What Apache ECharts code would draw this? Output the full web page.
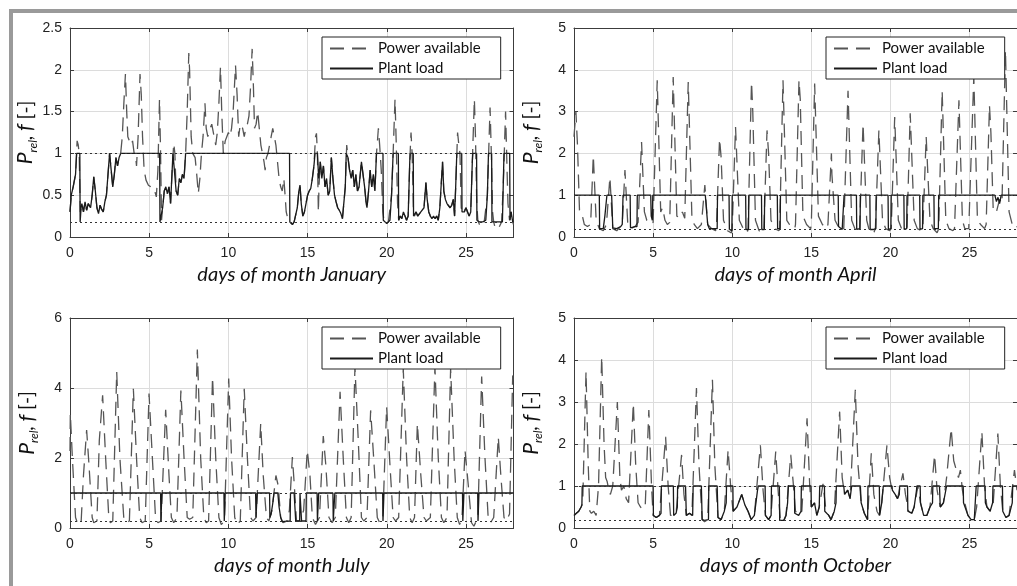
<!DOCTYPE html>
<html>
<head>
<meta charset="utf-8">
<script src="https://cdn.jsdelivr.net/npm/echarts@6/dist/echarts.min.js"></script>
<style>
html, body { margin: 0; padding: 0; background: #fff; }
#main { width: 1017px; height: 586px; }
</style>
</head>
<body>
<div id="main"></div>
<script type="text/javascript">
// panels: month name, y range and step
var months = ['January', 'April', 'July', 'October'];
var yMax = [2.5, 5, 6, 5];
var yStep = [0.5, 1, 2, 1];
var dayMax = 28;
var dayStep = 5;
// load limits (dotted lines)
var maxLoad = 1;
var minLoad = 0.18;

// [day, value]
var janPower = [[0,0.3],[0.08,0.5],[0.2,0.6],[0.35,0.75],[0.45,1.15],[0.52,1.1],[0.58,1.0],[0.65,0.3],[0.75,0.4],[0.85,0.3],[0.95,0.42],[1.05,0.32],[1.15,0.4],[1.3,0.35],[1.4,0.5],[1.5,0.72],[1.6,0.55],[1.7,0.35],[1.8,0.28],[1.9,0.38],[2.0,0.33],[2.1,0.3],[2.2,0.42],[2.3,0.5],[2.4,0.75],[2.5,1.0],[2.6,0.8],[2.7,0.6],[2.8,0.75],[2.9,0.95],[3.0,0.85],[3.1,0.95],[3.2,1.0],[3.3,1.2],[3.4,1.6],[3.5,1.95],[3.58,1.5],[3.65,1.2],[3.75,1.22],[3.85,1.1],[3.95,1.15],[4.05,1.0],[4.15,0.95],[4.2,0.85],[4.3,1.2],[4.42,1.95],[4.5,1.7],[4.58,1.2],[4.68,0.8],[4.8,0.68],[4.95,0.62],[5.1,0.6],[5.2,0.55],[5.35,0.55],[5.45,0.48],[5.55,0.8],[5.65,1.65],[5.72,1.0],[5.78,0.2],[5.85,0.35],[5.95,0.55],[6.05,0.6],[6.15,0.52],[6.25,0.6],[6.35,0.4],[6.45,0.8],[6.55,1.12],[6.62,1.0],[6.7,0.55],[6.8,0.5],[6.9,0.7],[7.0,0.65],[7.1,0.75],[7.2,0.7],[7.3,1.0],[7.4,1.5],[7.5,2.2],[7.55,2.0],[7.65,1.2],[7.75,1.0],[7.9,0.95],[8.0,0.75],[8.1,0.52],[8.2,0.7],[8.3,1.0],[8.4,1.2],[8.52,1.6],[8.6,1.3],[8.7,1.2],[8.85,1.3],[8.95,1.35],[9.1,1.2],[9.2,1.1],[9.3,1.25],[9.4,1.6],[9.5,2.03],[9.58,1.5],[9.68,1.0],[9.8,1.15],[9.9,1.2],[10.0,1.25],[10.1,1.2],[10.2,1.3],[10.3,1.5],[10.45,2.05],[10.55,1.7],[10.65,1.2],[10.75,1.35],[10.9,1.3],[11.0,1.2],[11.1,1.3],[11.2,1.35],[11.3,1.45],[11.4,1.8],[11.5,2.25],[11.58,1.8],[11.65,1.3],[11.75,1.35],[11.85,1.5],[11.95,1.3],[12.05,1.1],[12.15,1.0],[12.25,0.9],[12.32,0.8],[12.4,0.95],[12.5,1.0],[12.6,1.1],[12.7,1.2],[12.8,1.3],[12.9,1.2],[13.0,1.1],[13.1,0.9],[13.2,0.7],[13.3,0.6],[13.4,0.55],[13.5,0.7],[13.58,0.5],[13.65,0.3],[13.75,0.22],[13.85,0.18],[13.95,0.16],[14.05,0.15],[14.15,0.18],[14.25,0.2],[14.35,0.35],[14.45,0.55],[14.52,0.62],[14.6,0.4],[14.7,0.25],[14.8,0.3],[14.9,0.4],[15.0,0.5],[15.1,0.55],[15.2,0.58],[15.3,0.7],[15.4,0.85],[15.5,1.2],[15.56,1.24],[15.62,1.0],[15.68,0.3],[15.72,0.6],[15.8,0.9],[15.9,0.7],[16.0,0.85],[16.1,0.6],[16.2,0.7],[16.3,0.5],[16.4,0.55],[16.5,0.95],[16.6,0.7],[16.7,0.5],[16.8,0.42],[16.9,0.35],[17.0,0.32],[17.1,0.28],[17.2,0.22],[17.3,0.2],[17.38,0.6],[17.47,1.1],[17.55,0.95],[17.65,0.8],[17.75,0.7],[17.85,0.8],[17.95,0.6],[18.05,0.75],[18.15,0.55],[18.25,0.6],[18.4,0.9],[18.5,0.75],[18.6,0.6],[18.7,0.4],[18.75,0.35],[18.85,0.55],[18.95,0.8],[19.05,0.6],[19.15,0.75],[19.25,0.55],[19.35,1.0],[19.47,1.3],[19.55,1.1],[19.65,0.8],[19.75,0.3],[19.82,0.2],[19.9,0.16],[20.0,0.15],[20.1,0.18],[20.2,0.2],[20.3,0.5],[20.4,1.0],[20.52,1.65],[20.6,1.1],[20.68,0.4],[20.75,0.2],[20.85,0.25],[20.95,0.22],[21.05,0.3],[21.15,0.25],[21.25,0.2],[21.35,0.25],[21.45,0.9],[21.53,1.25],[21.6,1.0],[21.68,0.35],[21.75,0.25],[21.85,0.3],[21.95,0.25],[22.05,0.25],[22.15,0.3],[22.25,0.28],[22.35,0.35],[22.47,0.65],[22.55,0.45],[22.65,0.3],[22.75,0.25],[22.85,0.22],[22.95,0.25],[23.05,0.22],[23.15,0.25],[23.25,0.2],[23.35,0.35],[23.52,0.9],[23.6,0.55],[23.7,0.45],[23.8,0.4],[23.9,0.42],[24.0,0.35],[24.1,0.38],[24.2,0.45],[24.28,0.25],[24.35,0.6],[24.47,1.25],[24.55,1.1],[24.62,1.0],[24.7,0.35],[24.8,0.28],[24.9,0.3],[25.0,0.35],[25.1,0.3],[25.2,0.25],[25.3,0.3],[25.4,0.9],[25.53,1.65],[25.6,1.2],[25.68,0.4],[25.75,0.2],[25.85,0.15],[25.95,0.18],[26.05,0.15],[26.15,0.18],[26.25,0.2],[26.35,0.5],[26.52,1.55],[26.6,1.0],[26.68,0.3],[26.75,0.18],[26.85,0.1],[26.95,0.08],[27.05,0.1],[27.15,0.14],[27.25,0.18],[27.35,0.6],[27.5,1.5],[27.58,0.9],[27.65,0.4],[27.75,0.2],[27.85,0.3],[27.95,0.18],[28,0.15]];
var janLoad = [[0,0.3],[0.08,0.5],[0.2,0.6],[0.35,0.75],[0.42,1.0],[0.62,1.0],[0.64,0.18],[0.7,0.35],[0.75,0.4],[0.85,0.3],[0.95,0.42],[1.05,0.32],[1.15,0.4],[1.3,0.35],[1.4,0.5],[1.5,0.72],[1.6,0.55],[1.7,0.35],[1.8,0.28],[1.9,0.38],[2.0,0.33],[2.1,0.3],[2.2,0.42],[2.3,0.5],[2.4,0.75],[2.5,1.0],[2.6,0.8],[2.7,0.6],[2.8,0.75],[2.9,0.95],[3.0,0.85],[3.1,0.95],[3.2,1.0],[5.66,1.0],[5.68,0.18],[5.78,0.2],[5.85,0.35],[5.95,0.55],[6.05,0.6],[6.15,0.52],[6.25,0.6],[6.35,0.4],[6.45,0.8],[6.5,1.0],[6.62,1.0],[6.7,0.55],[6.8,0.5],[6.9,0.7],[7.0,0.65],[7.1,0.75],[7.2,0.7],[7.3,1.0],[13.86,1.0],[13.88,0.18],[13.95,0.16],[14.05,0.15],[14.15,0.18],[14.25,0.2],[14.35,0.35],[14.45,0.55],[14.52,0.62],[14.6,0.4],[14.7,0.25],[14.8,0.3],[14.9,0.4],[15.0,0.5],[15.1,0.55],[15.2,0.58],[15.3,0.7],[15.4,0.85],[15.47,1.0],[15.62,1.0],[15.7,0.7],[15.8,0.9],[15.9,0.7],[16.0,0.85],[16.1,0.6],[16.2,0.7],[16.3,0.5],[16.4,0.55],[16.5,0.95],[16.6,0.7],[16.7,0.5],[16.8,0.42],[16.9,0.35],[17.0,0.32],[17.1,0.28],[17.2,0.22],[17.3,0.2],[17.38,0.6],[17.44,1.0],[17.52,1.0],[17.55,0.95],[17.65,0.8],[17.75,0.7],[17.85,0.8],[17.95,0.6],[18.05,0.75],[18.15,0.55],[18.25,0.6],[18.4,0.9],[18.5,0.75],[18.6,0.6],[18.7,0.4],[18.75,0.35],[18.85,0.55],[18.95,0.8],[19.05,0.6],[19.15,0.75],[19.25,0.55],[19.35,1.0],[19.76,1.0],[19.78,0.2],[19.9,0.18],[20.0,0.16],[20.1,0.18],[20.2,0.2],[20.3,0.5],[20.4,1.0],[20.73,1.0],[20.75,0.2],[20.85,0.25],[20.95,0.22],[21.05,0.3],[21.15,0.25],[21.25,0.2],[21.35,0.25],[21.45,0.9],[21.48,1.0],[21.67,1.0],[21.69,0.25],[21.75,0.25],[21.85,0.3],[21.95,0.25],[22.05,0.25],[22.15,0.3],[22.25,0.28],[22.35,0.35],[22.47,0.65],[22.55,0.45],[22.65,0.3],[22.75,0.25],[22.85,0.22],[22.95,0.25],[23.05,0.22],[23.15,0.25],[23.25,0.2],[23.35,0.35],[23.52,0.9],[23.6,0.55],[23.7,0.45],[23.8,0.4],[23.9,0.42],[24.0,0.35],[24.1,0.38],[24.2,0.45],[24.28,0.25],[24.35,0.6],[24.42,1.0],[24.73,1.0],[24.75,0.3],[24.8,0.28],[24.9,0.3],[25.0,0.35],[25.1,0.3],[25.2,0.25],[25.3,0.3],[25.4,0.9],[25.43,1.0],[25.67,1.0],[25.69,0.2],[25.75,0.2],[25.85,0.18],[26.05,0.18],[26.25,0.2],[26.35,0.5],[26.42,1.0],[26.62,1.0],[26.64,0.18],[27.3,0.18],[27.35,0.6],[27.4,1.0],[27.76,1.0],[27.78,0.2],[27.85,0.3],[27.95,0.18],[28,0.18]];

var aprPower = [[0,2.4],[0.12,3.0],[0.22,2.2],[0.35,0.6],[0.5,0.55],[0.65,0.3],[0.85,0.25],[1.05,0.3],[1.22,1.95],[1.4,0.4],[1.6,0.2],[1.85,0.15],[2.05,0.3],[2.27,1.43],[2.45,0.2],[2.7,0.15],[2.95,0.25],[3.05,0.3],[3.22,1.6],[3.4,0.3],[3.6,0.2],[3.85,0.25],[4.05,0.35],[4.27,2.27],[4.45,0.6],[4.6,0.4],[4.8,0.3],[5.0,0.35],[5.26,3.75],[5.48,0.6],[5.6,0.7],[5.75,0.4],[5.9,0.3],[6.05,0.35],[6.27,3.83],[6.5,0.5],[6.7,0.45],[6.85,0.6],[7.0,0.45],[7.22,3.71],[7.45,0.5],[7.6,0.3],[7.8,0.2],[8.05,0.3],[8.27,1.24],[8.45,0.3],[8.7,0.2],[8.95,0.15],[9.0,0.2],[9.2,2.35],[9.3,1.9],[9.45,0.4],[9.7,0.15],[9.95,0.1],[10.0,0.2],[10.21,2.63],[10.45,0.4],[10.7,0.2],[10.95,0.1],[11.0,0.2],[11.22,3.71],[11.3,3.0],[11.47,0.4],[11.7,0.15],[11.95,0.1],[12.0,0.2],[12.2,2.55],[12.3,2.0],[12.45,0.4],[12.7,0.2],[12.95,0.15],[13.0,0.2],[13.21,3.75],[13.45,0.4],[13.7,0.25],[13.95,0.2],[14.0,0.3],[14.22,3.75],[14.3,3.3],[14.47,0.5],[14.7,0.3],[14.95,0.2],[15.0,0.3],[15.21,3.67],[15.45,0.5],[15.7,0.3],[15.95,0.2],[16.05,0.3],[16.27,2.0],[16.3,1.5],[16.5,0.4],[16.7,0.25],[16.95,0.15],[17.05,0.2],[17.32,3.5],[17.55,0.4],[17.75,0.2],[17.95,0.1],[18.05,0.2],[18.27,2.71],[18.5,0.4],[18.7,0.1],[18.95,0.1],[19.05,0.2],[19.27,2.55],[19.5,0.4],[19.7,0.2],[19.95,0.15],[20.05,0.2],[20.27,2.87],[20.5,0.4],[20.7,0.2],[20.95,0.15],[21.05,0.2],[21.25,2.96],[21.5,0.4],[21.7,0.2],[21.95,0.15],[22.05,0.2],[22.26,2.4],[22.5,0.4],[22.7,0.2],[22.95,0.1],[23.05,0.2],[23.27,3.5],[23.5,0.4],[23.7,0.2],[23.95,0.15],[24.05,0.2],[24.33,3.27],[24.55,0.4],[24.7,0.2],[24.95,0.2],[25.05,0.2],[25.27,3.83],[25.5,0.4],[25.7,0.3],[25.95,0.2],[26.05,0.3],[26.26,3.15],[26.35,2.5],[26.5,0.6],[26.7,0.6],[26.9,0.9],[27.05,0.8],[27.27,4.47],[27.5,0.6],[27.7,0.3],[27.9,0.2],[28,0.25]];
var aprLoad = [[0,1],[1.6,1],[1.62,0.2],[1.85,0.2],[1.95,0.5],[2.08,1],[2.38,1],[2.45,0.22],[2.7,0.2],[2.95,0.25],[3.05,0.3],[3.1,1],[3.55,1],[3.57,0.22],[3.85,0.25],[3.98,0.25],[4.0,1],[4.85,1],[4.88,0.5],[4.95,0.4],[4.98,1],[8.3,1],[8.45,0.3],[8.55,0.2],[8.8,0.2],[9.05,0.2],[9.07,1],[9.8,1],[9.82,0.18],[9.98,0.15],[10.0,1],[10.85,1],[10.87,0.18],[11.03,0.18],[11.05,1],[11.85,1],[11.87,0.18],[12.03,0.18],[12.05,1],[12.85,1],[12.87,0.2],[13.03,0.2],[13.05,1],[16.7,1],[16.72,0.25],[16.95,0.18],[17.05,0.2],[17.07,1],[17.85,1],[17.87,0.18],[18.08,0.2],[18.1,1],[18.7,1],[18.72,0.18],[18.95,0.18],[19.08,0.2],[19.1,1],[19.85,1],[19.87,0.18],[20.03,0.2],[20.05,1],[20.85,1],[20.87,0.18],[21.03,0.2],[21.05,1],[21.85,1],[21.87,0.18],[22.03,0.2],[22.05,1],[22.75,1],[22.77,0.2],[23.03,0.2],[23.05,1],[26.6,1],[26.7,0.85],[26.8,0.95],[26.9,0.8],[27.0,1],[28,1]];

var julPower = [[0,2.2],[0.02,3.27],[0.15,2.0],[0.35,0.3],[0.5,0.1],[0.7,0.15],[0.85,1.5],[1.05,2.8],[1.2,1.8],[1.4,0.3],[1.5,0.15],[1.7,0.2],[1.85,2.5],[2.06,3.79],[2.25,2.0],[2.45,0.3],[2.55,0.15],[2.7,0.2],[2.95,4.46],[3.15,2.0],[3.4,0.25],[3.55,0.15],[3.75,0.2],[4.0,3.98],[4.2,2.0],[4.4,0.3],[4.55,0.15],[4.75,0.2],[4.99,3.84],[5.2,2.0],[5.4,0.3],[5.55,0.15],[5.75,0.2],[6.04,3.38],[6.25,1.5],[6.4,0.3],[6.55,0.15],[6.75,0.3],[7.0,3.93],[7.2,2.0],[7.4,0.3],[7.55,0.25],[7.75,0.3],[8.04,5.1],[8.25,2.0],[8.45,0.3],[8.6,0.15],[8.75,0.2],[9.0,4.31],[9.2,2.0],[9.4,0.3],[9.55,0.1],[9.75,0.2],[10.02,4.27],[10.2,2.0],[10.4,0.3],[10.55,0.1],[10.75,0.2],[11.0,3.98],[11.2,2.0],[11.4,0.3],[11.55,0.2],[11.75,0.3],[12.04,2.98],[12.2,1.5],[12.4,0.3],[12.55,0.2],[12.75,0.5],[13.0,1.5],[13.15,1.2],[13.3,0.3],[13.45,0.15],[13.7,0.2],[13.85,0.5],[14.04,2.03],[14.15,1.3],[14.3,0.2],[14.5,0.2],[14.75,0.5],[14.98,2.22],[15.15,1.5],[15.3,0.3],[15.5,0.1],[15.75,0.3],[15.99,2.63],[16.15,1.8],[16.35,0.3],[16.55,0.15],[16.75,0.3],[17.05,3.89],[17.25,2.0],[17.45,0.3],[17.6,0.15],[17.75,0.3],[17.99,4.6],[18.2,2.5],[18.4,0.3],[18.55,0.2],[18.75,0.3],[18.98,3.36],[19.2,1.8],[19.4,0.3],[19.55,0.15],[19.75,0.3],[19.99,3.46],[20.2,1.8],[20.4,0.3],[20.55,0.2],[20.75,0.3],[21.04,4.55],[21.25,2.0],[21.45,0.3],[21.6,0.15],[21.75,0.3],[21.93,2.98],[22.15,1.5],[22.35,0.3],[22.5,0.2],[22.75,0.3],[23.04,4.6],[23.25,2.0],[23.45,0.3],[23.6,0.15],[23.8,0.3],[24.03,4.55],[24.25,2.0],[24.45,0.3],[24.6,0.1],[24.75,0.3],[24.94,2.22],[25.15,1.2],[25.35,0.15],[25.5,0.05],[25.75,0.3],[25.99,4.33],[26.2,2.0],[26.4,0.3],[26.55,0.15],[26.75,0.3],[27.04,2.6],[27.2,1.5],[27.4,0.3],[27.55,0.2],[27.75,0.4],[27.95,4.36],[28,4.0]];
var julLoad = [[0,1],[5.72,1],[5.74,0.2],[5.78,0.2],[5.8,1],[9.72,1],[9.74,0.2],[9.78,0.2],[9.8,1],[11.72,1],[11.74,0.3],[11.8,0.3],[11.82,1],[12.6,1],[12.62,0.3],[12.7,0.4],[12.8,0.7],[12.88,1],[13.12,1],[13.2,0.6],[13.3,0.3],[13.4,0.18],[13.9,0.2],[13.92,1],[14.15,1],[14.25,0.2],[14.5,0.2],[14.52,1],[14.6,1],[14.62,0.2],[14.9,0.2],[14.92,1],[15.6,1],[15.62,0.2],[15.68,0.2],[15.7,1],[16.6,1],[16.62,0.2],[16.7,0.2],[16.72,1],[19.74,1],[19.76,0.2],[19.8,0.2],[19.82,1],[24.78,1],[24.8,0.2],[24.85,0.2],[24.87,1],[25.74,1],[25.76,0.2],[25.8,0.2],[25.82,1],[28,1]];

var octPower = [[0,0.3],[0.15,0.35],[0.3,0.4],[0.45,0.5],[0.55,0.6],[0.76,3.73],[0.9,1.5],[1.0,0.4],[1.1,0.35],[1.25,0.4],[1.4,0.3],[1.55,1.0],[1.75,4.08],[1.9,2.0],[2.0,1.2],[2.1,1.1],[2.2,0.9],[2.3,0.8],[2.45,1.0],[2.74,3.0],[2.9,1.2],[3.0,0.9],[3.15,1.0],[3.3,0.7],[3.45,0.6],[3.75,2.97],[3.9,1.5],[4.05,0.6],[4.2,0.5],[4.35,0.45],[4.5,0.5],[4.73,2.81],[4.9,1.0],[5.0,0.3],[5.2,0.25],[5.4,0.3],[5.79,2.17],[5.95,1.0],[6.1,0.3],[6.3,0.3],[6.45,0.35],[6.8,1.74],[6.95,0.8],[7.1,0.3],[7.3,0.35],[7.45,0.3],[7.74,3.33],[7.9,1.5],[8.1,0.2],[8.25,0.15],[8.45,0.2],[8.75,3.53],[8.9,1.5],[9.1,0.25],[9.3,0.2],[9.5,0.4],[9.74,1.86],[9.9,1.0],[10.05,0.4],[10.3,0.5],[10.6,0.8],[10.8,0.55],[11.0,0.4],[11.2,0.2],[11.4,0.3],[11.78,1.97],[11.95,0.9],[12.1,0.3],[12.3,0.2],[12.45,0.3],[12.75,1.82],[12.9,0.9],[13.05,0.15],[13.25,0.15],[13.4,0.3],[13.7,1.74],[13.85,1.1],[14.0,0.4],[14.2,0.3],[14.4,0.4],[14.73,2.61],[14.9,1.0],[15.0,0.5],[15.2,0.6],[15.35,0.3],[15.5,0.5],[15.74,1.05],[15.9,0.5],[16.1,0.3],[16.25,0.2],[16.45,0.4],[16.79,2.77],[16.95,1.2],[17.1,0.8],[17.3,0.9],[17.45,0.7],[17.78,3.29],[17.95,1.5],[18.15,0.6],[18.35,0.35],[18.55,0.2],[18.79,1.78],[18.95,0.8],[19.15,0.4],[19.3,0.3],[19.45,0.6],[19.78,1.97],[19.95,1.2],[20.1,0.9],[20.3,0.8],[20.45,0.7],[20.79,1.3],[20.95,0.8],[21.15,0.4],[21.35,0.35],[21.5,0.5],[21.74,1.0],[21.9,0.6],[22.1,0.3],[22.3,0.3],[22.5,0.5],[22.79,1.74],[22.95,0.9],[23.15,0.5],[23.35,0.6],[23.55,1.2],[23.84,2.37],[24.0,1.6],[24.15,1.4],[24.3,1.2],[24.42,1.38],[24.55,0.9],[24.7,0.6],[24.9,0.3],[25.1,0.2],[25.3,0.2],[25.45,0.5],[25.78,2.29],[25.95,1.0],[26.1,0.5],[26.3,0.4],[26.5,0.6],[26.79,2.25],[26.95,1.0],[27.1,0.4],[27.3,0.25],[27.5,0.3],[27.84,1.38],[28,0.9]];
var octLoad = [[0,0.3],[0.15,0.35],[0.3,0.4],[0.45,0.5],[0.5,0.55],[0.52,1],[5.0,1],[5.02,0.3],[5.2,0.25],[5.4,0.3],[5.5,0.35],[5.52,1],[6.28,1],[6.3,0.3],[6.45,0.35],[6.53,0.5],[6.55,1],[7.05,1],[7.1,0.3],[7.3,0.35],[7.5,0.3],[7.53,1],[8.05,1],[8.1,0.2],[8.25,0.18],[8.5,0.2],[8.52,1],[9.05,1],[9.1,0.25],[9.3,0.2],[9.5,0.4],[9.62,0.6],[9.64,1],[10.04,1],[10.06,0.4],[10.3,0.5],[10.6,0.8],[10.8,0.55],[11.0,0.4],[11.2,0.2],[11.4,0.3],[11.6,0.9],[11.65,1],[12.08,1],[12.1,0.3],[12.3,0.2],[12.46,0.3],[12.48,1],[12.98,1],[13.0,0.18],[13.25,0.18],[13.4,0.3],[13.5,0.6],[13.55,1],[13.93,1],[13.95,0.35],[14.2,0.3],[14.35,0.4],[14.37,1],[14.98,1],[15.0,0.5],[15.2,0.6],[15.35,0.3],[15.5,0.5],[15.53,1],[15.83,1],[15.85,0.4],[16.1,0.3],[16.25,0.2],[16.45,0.4],[16.56,0.6],[16.58,1],[17.05,1],[17.1,0.8],[17.3,0.9],[17.45,0.7],[17.55,1],[18.1,1],[18.15,0.6],[18.35,0.35],[18.56,0.2],[18.58,1],[19.3,1],[19.32,0.3],[19.45,0.6],[19.55,1],[20.1,1],[20.12,0.9],[20.3,0.8],[20.45,0.7],[20.56,0.8],[20.58,1],[21.08,1],[21.1,0.4],[21.35,0.35],[21.5,0.5],[21.65,0.9],[21.67,1],[21.88,1],[21.9,0.6],[22.1,0.3],[22.3,0.3],[22.5,0.5],[22.66,0.6],[22.68,1],[23.1,1],[23.15,0.5],[23.35,0.6],[23.55,1.0],[24.6,1],[24.62,0.6],[24.9,0.3],[25.1,0.2],[25.3,0.2],[25.4,0.2],[25.42,1],[25.98,1],[26.0,0.6],[26.1,0.5],[26.3,0.4],[26.46,0.6],[26.48,1],[27.08,1],[27.1,0.4],[27.3,0.25],[27.5,0.3],[27.7,0.6],[27.73,1],[28,1]];

var powerData = [janPower, aprPower, julPower, octPower];
var loadData = [janLoad, aprLoad, julLoad, octLoad];

// plot boxes (px)
var boxes = [
    {left: 70, top: 28, width: 443.5, height: 209},
    {left: 574, top: 28, width: 443.5, height: 209},
    {left: 70, top: 318, width: 443.5, height: 210},
    {left: 574, top: 318, width: 443.5, height: 210}
];
var tickFont = 'Liberation Sans, Arial, sans-serif';
var textFont = 'Lato, Open Sans, sans-serif';
var frameColor = '#3c3c3c';

var grids = [], xAxes = [], yAxes = [], series = [], legends = [];
for (var i = 0; i < 4; i++) {
    var b = boxes[i];
    grids.push({left: b.left, top: b.top, width: b.width, height: b.height, containLabel: false});

    xAxes.push({
        type: 'value', gridIndex: i, min: 0, max: dayMax, interval: dayStep,
        axisLine: {show: true, onZero: false, lineStyle: {color: frameColor, width: 1}},
        axisTick: {show: true, inside: true, length: 4, lineStyle: {color: frameColor}},
        axisLabel: {show: true, showMaxLabel: false, margin: 9, color: '#222', fontSize: 14, fontFamily: tickFont},
        splitLine: {show: true, lineStyle: {color: '#dcdcdc', width: 1}},
        name: 'days of month ' + months[i], nameLocation: 'middle', nameGap: 28,
        nameTextStyle: {fontSize: 20, fontStyle: 'italic', fontFamily: textFont, color: '#111'}
    });
    xAxes.push({
        type: 'value', gridIndex: i, position: 'top', min: 0, max: dayMax, interval: dayStep,
        axisLine: {show: true, onZero: false, lineStyle: {color: frameColor, width: 1}},
        axisTick: {show: true, inside: true, length: 4, lineStyle: {color: frameColor}},
        axisLabel: {show: false}, splitLine: {show: false}
    });
    yAxes.push({
        type: 'value', gridIndex: i, min: 0, max: yMax[i], interval: yStep[i],
        axisLine: {show: true, onZero: false, lineStyle: {color: frameColor, width: 1}},
        axisTick: {show: true, inside: true, length: 4, lineStyle: {color: frameColor}},
        axisLabel: {show: true, margin: 8, color: '#222', fontSize: 14, fontFamily: tickFont},
        splitLine: {show: true, lineStyle: {color: '#dcdcdc', width: 1}},
        name: '{p|P}{s|rel}{t|, }{p|f}{t| [-]}', nameLocation: 'middle', nameGap: 30,
        nameTextStyle: {
            color: '#111',
            rich: {
                p: {fontSize: 21, fontStyle: 'italic', fontFamily: textFont, lineHeight: 26, color: '#111'},
                s: {fontSize: 12, fontStyle: 'italic', fontFamily: textFont, lineHeight: 26, verticalAlign: 'bottom', color: '#111'},
                t: {fontSize: 19, fontFamily: textFont, lineHeight: 26, color: '#111'}
            }
        }
    });
    yAxes.push({
        type: 'value', gridIndex: i, position: 'right', min: 0, max: yMax[i], interval: yStep[i],
        axisLine: {show: true, onZero: false, lineStyle: {color: frameColor, width: 1}},
        axisTick: {show: true, inside: true, length: 4, lineStyle: {color: frameColor}},
        axisLabel: {show: false}, splitLine: {show: false}
    });

    series.push({
        name: 'Power available', type: 'line', xAxisIndex: 2 * i, yAxisIndex: 2 * i,
        data: powerData[i], showSymbol: false, symbol: 'none', smooth: false,
        lineStyle: {color: '#555', width: 1.3, type: [14, 8]},
        itemStyle: {color: '#555'}, z: 2
    });
    series.push({
        name: 'Plant load', type: 'line', xAxisIndex: 2 * i, yAxisIndex: 2 * i,
        data: loadData[i], showSymbol: false, symbol: 'none', smooth: false,
        lineStyle: {color: '#1a1a1a', width: 1.3, type: 'solid'},
        itemStyle: {color: '#1a1a1a'}, z: 3,
        markLine: {
            silent: true, symbol: ['none', 'none'], label: {show: false},
            lineStyle: {color: '#333', width: 1, type: [2, 3]},
            emphasis: {disabled: true},
            data: [{yAxis: maxLoad}, {yAxis: minLoad}]
        }
    });

    legends.push({
        data: ['Power available', 'Plant load'],
        orient: 'vertical', left: b.left + 252, top: b.top + 9,
        backgroundColor: '#fff', borderColor: '#222', borderWidth: 1, borderRadius: 0,
        padding: [4, 20, 3, 7], itemGap: 5, itemWidth: 43, itemHeight: 14,
        selectedMode: false,
        itemStyle: {opacity: 0},
        textStyle: {fontSize: 15, fontFamily: textFont, color: '#111'}
    });
}

var chart = echarts.init(document.getElementById('main'), null, {renderer: 'canvas'});
chart.setOption({
    animation: false,
    backgroundColor: '#fff',
    grid: grids,
    xAxis: xAxes,
    yAxis: yAxes,
    legend: legends,
    series: series,
    graphic: [
        {type: 'rect', left: 9, top: 9, shape: {width: 1008, height: 4}, style: {fill: '#9a9a9a'}, silent: true},
        {type: 'rect', left: 9, top: 9, shape: {width: 4, height: 577}, style: {fill: '#9a9a9a'}, silent: true}
    ]
});
</script>
</body>
</html>
